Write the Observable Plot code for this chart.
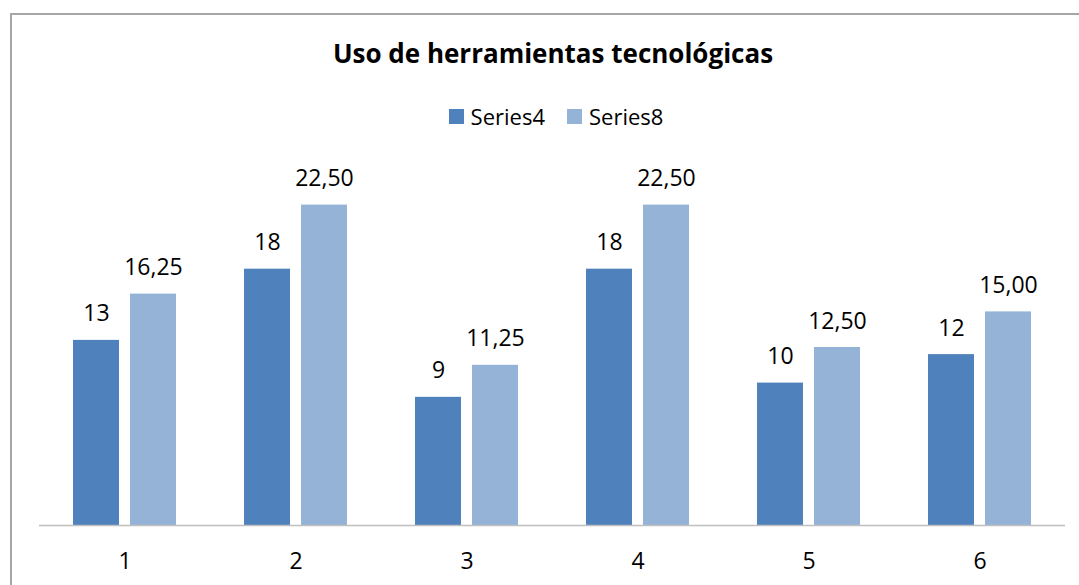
<!DOCTYPE html>
<html>
<head>
<meta charset="utf-8">
<script src="https://cdn.jsdelivr.net/npm/d3@7"></script>
<script src="https://cdn.jsdelivr.net/npm/@observablehq/plot@0.6"></script>
<style>
  body { margin: 0; background: #fff; font-family: "Open Sans", sans-serif; }
  #wrap { position: relative; width: 1079px; height: 585px; overflow: hidden; background: #fff; }
  #frame { position: absolute; left: 10px; top: 13px; width: 1100px; height: 600px;
           border-left: 2px solid #a6a6a6; border-top: 2px solid #a6a6a6; box-sizing: border-box; }
  #title { position: absolute; left: 0; width: 1106px; top: 36px; text-align: center;
           font-weight: 700; font-size: 26px; line-height: 34px; color: #000; white-space: nowrap; }
  #legend { position: absolute; left: 0; width: 1112px; top: 100px; height: 32px;
            display: flex; justify-content: center; align-items: center; font-size: 22px; color: #000; }
  .item { display: flex; align-items: center; margin: 0 11px; }
  .sw { width: 15px; height: 15px; margin-right: 7px; }
  #chart { position: absolute; left: 0; top: 140px; }
</style>
</head>
<body>
<div id="wrap">
  <div id="frame"></div>
  <div id="title"></div>
  <div id="legend"></div>
  <div id="chart"></div>
</div>
<script>
const titleText = "Uso de herramientas tecnológicas";
const categories = ["1", "2", "3", "4", "5", "6"];
const seriesNames = ["Series4", "Series8"];
const series4 = [13, 18, 9, 18, 10, 12];
const series8 = [16.25, 22.5, 11.25, 22.5, 12.5, 15];
const colors = ["#4F81BD", "#95B3D7"];

const data = categories.flatMap((c, i) => [
  {cat: c, series: seriesNames[0], value: series4[i]},
  {cat: c, series: seriesNames[1], value: series8[i]}
]);
const fmt = d => d.series === "Series8" ? d.value.toFixed(2).replace(".", ",") : String(d.value);

document.getElementById("title").textContent = titleText;
const legend = document.getElementById("legend");
seriesNames.forEach((s, i) => {
  const item = document.createElement("div");
  item.className = "item";
  const sw = document.createElement("span");
  sw.className = "sw";
  sw.style.background = colors[i];
  const lab = document.createElement("span");
  lab.textContent = s;
  item.appendChild(sw);
  item.appendChild(lab);
  legend.appendChild(item);
});

const chart = Plot.plot({
  width: 1079,
  height: 445,
  marginLeft: 39,
  marginRight: 14,
  marginTop: 29,
  marginBottom: 60,
  style: {fontFamily: '"Open Sans", sans-serif', fontSize: "23px", color: "#000", background: "transparent", overflow: "visible"},
  fx: {domain: categories, paddingInner: 68 / 171, paddingOuter: 34 / 171, round: false,
       axis: "bottom", tickSize: 0, tickPadding: 27, label: null},
  x: {domain: seriesNames, paddingInner: 11 / 57, paddingOuter: 0, round: false, axis: null},
  y: {domain: [0, 25], axis: null},
  color: {domain: seriesNames, range: colors},
  marks: [
    Plot.barY(data, {fx: "cat", x: "series", y: "value", fill: "series"}),
    Plot.ruleY([0], {stroke: "#bfbfbf", strokeWidth: 1.5, insetLeft: -34, insetRight: -34}),
    Plot.text(data, {fx: "cat", x: "series", y: "value", text: fmt, dy: -19,
                     lineAnchor: "bottom", fill: "#000", fontSize: 23})
  ]
});
document.getElementById("chart").appendChild(chart);
</script>
</body>
</html>
